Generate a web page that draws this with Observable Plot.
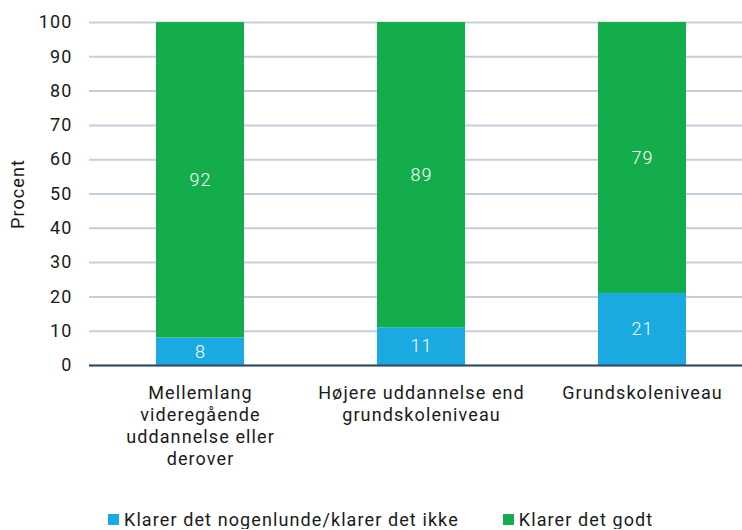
<!DOCTYPE html>
<html><head><meta charset="utf-8">
<script src="https://cdn.jsdelivr.net/npm/d3@7"></script>
<script src="https://cdn.jsdelivr.net/npm/@observablehq/plot@0.6"></script>
<style>
body{margin:0;background:#fff;font-family:Roboto,sans-serif;color:#1a1a1a}
#legend{display:flex;align-items:center;padding-left:108px;padding-top:9px;height:20px;font-size:18px;letter-spacing:1.1px}
#legend .item{display:flex;align-items:center;margin-right:44px}
#legend .sw{width:11px;height:11px;margin-right:5px}
</style>
</head><body><div id="chart"></div><div id="legend"></div>
<script>
const categories = ["Mellemlang videregående uddannelse eller derover", "Højere uddannelse end grundskoleniveau", "Grundskoleniveau"];
const xLabels = ["Mellemlang\nvideregående\nuddannelse eller\nderover", "Højere uddannelse end\ngrundskoleniveau", "Grundskoleniveau"];
const seriesNames = ["Klarer det nogenlunde/klarer det ikke", "Klarer det godt"];
const lowValues = [8, 11, 21];
const highValues = [92, 89, 79];
const yTicks = [0, 10, 20, 30, 40, 50, 60, 70, 80, 90, 100];
const colors = ["#1aa9e1", "#14ad4b"];
const yLabel = "Procent";

const data = categories.flatMap((c, i) => [
  {cat: c, series: seriesNames[0], value: lowValues[i]},
  {cat: c, series: seriesNames[1], value: highValues[i]}
]);

const chart = Plot.plot({
  width: 742, height: 500,
  marginTop: 22, marginLeft: 89, marginRight: -11, marginBottom: 135,
  style: {fontFamily: "Roboto, sans-serif", fontSize: "18px", color: "#1a1a1a", background: "#fff", letterSpacing: "1.1px"},
  x: {domain: categories, paddingInner: 0.6, paddingOuter: 0.3},
  y: {domain: [0, 100]},
  color: {domain: seriesNames, range: colors},
  marks: [
    Plot.gridY(yTicks, {stroke: "#c3cfdb", strokeOpacity: 1, strokeWidth: 2}),
    Plot.barY(data, {x: "cat", y: "value", fill: "series"}),
    Plot.text(data, Plot.stackY({x: "cat", y: "value", text: "value", fill: "white", fontSize: 18, fontWeight: 300})),
    Plot.ruleY([0], {stroke: "#2e4860", strokeWidth: 2}),
    Plot.axisY(yTicks, {tickSize: 0, tickPadding: 17, fontSize: 18, label: yLabel, labelAnchor: "center", labelArrow: "none", labelOffset: 78}),
    Plot.axisX({tickSize: 0, tickPadding: 18, fontSize: 18, lineHeight: 1.22, tickFormat: d => xLabels[categories.indexOf(d)], label: null})
  ]
});
document.getElementById("chart").append(chart);

const legend = d3.select("#legend");
seriesNames.forEach((s, i) => {
  const it = legend.append("div").attr("class", "item");
  it.append("div").attr("class", "sw").style("background", colors[i]);
  it.append("span").text(s);
});
</script>
</body></html>
